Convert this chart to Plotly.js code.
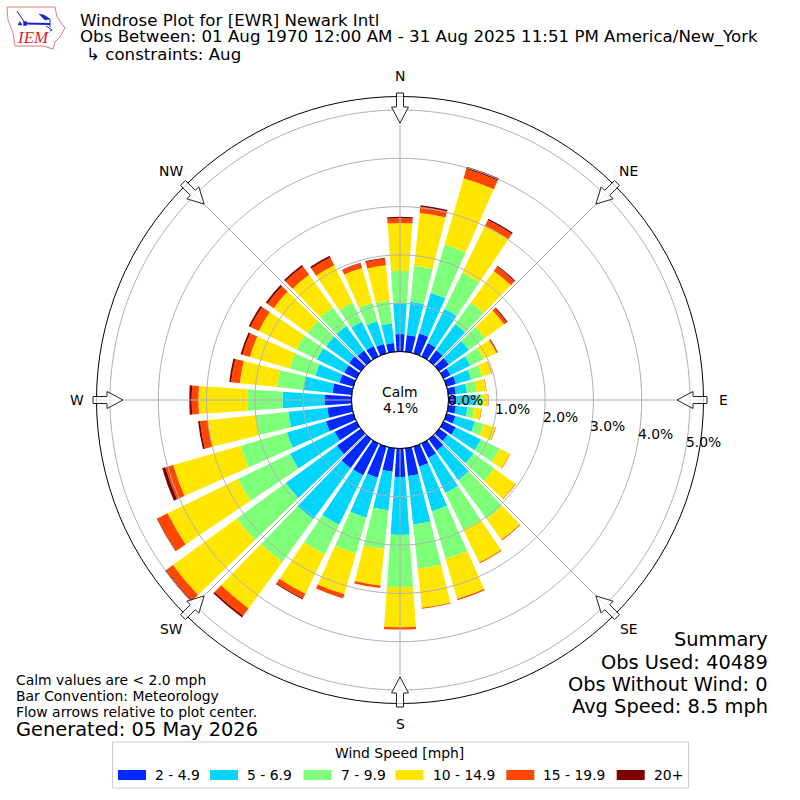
<!DOCTYPE html>
<html>
<head>
<meta charset="utf-8">
<script src="https://cdn.plot.ly/plotly-3.0.1.min.js"></script>
<style>body{margin:0;background:#fff}</style>
</head>
<body>
<div id="windrose" style="width:800px;height:800px"></div>
<script>
var directions = [0,10,20,30,40,50,60,70,80,90,100,110,120,130,140,150,160,170,180,190,200,210,220,230,240,250,260,270,280,290,300,310,320,330,340,350];

var speed2to5 = [.36,.35,.43,.31,.27,.25,.16,.20,.16,.16,.16,.19,.28,.22,.29,.33,.43,.58,.59,.49,.67,.73,.74,.61,.50,.59,.51,.55,.40,.30,.28,.30,.26,.24,.20,.18];
var speed5to7 = [.64,.69,.87,.79,.67,.51,.46,.33,.23,.42,.24,.42,.58,.66,.76,.81,.96,1.01,1.20,.80,.86,1.14,1.31,1.31,1.03,.84,.81,.88,.60,.52,.63,.59,.63,.56,.49,.41];
var speed7to10 = [.67,.75,1.04,.83,.55,.41,.30,.23,.20,.13,.14,.19,.43,.53,.99,.85,1.03,.92,1.08,.81,.77,.68,1.09,1.25,1.20,1.00,.68,.73,.55,.55,.47,.47,.48,.44,.40,.47];
var speed10to15 = [.99,1.10,1.43,1.08,.81,.49,.30,.21,.20,.11,.15,.25,.24,.54,.53,.75,.86,.81,.83,.76,.88,.91,1.19,1.64,1.62,1.45,1.00,1.01,.78,.86,.87,.87,.83,.86,.75,.74];
var speed15to20 = [.10,.13,.20,.13,.11,.07,.02,.01,.01,.01,.01,.01,.01,.01,.02,.02,.03,.02,.05,.05,.09,.11,.19,.17,.24,.17,.16,.14,.18,.16,.19,.16,.21,.18,.10,.14];
var speed20up = [.03,.03,.05,.03,.02,.02,.01,0,0,0,0,0,0,0,0,0,0,0,0,0,0,.02,.04,.03,.01,.07,.04,.05,.04,.04,.04,.04,.04,.04,.01,.02];

var binNames = ['2 - 4.9','5 - 6.9','7 - 9.9','10 - 14.9','15 - 19.9','20+'];
var binColors = ['#0029ff','#00d5ff','#7dff7a','#ffe600','#ff4700','#800000'];
var binValues = [speed2to5,speed5to7,speed7to10,speed10to15,speed15to20,speed20up];

var radialTicks = [0,1,2,3,4,5];
var compassAngles = [0,45,90,135,180,225,270,315];
var compassNames = ['N','NE','E','SE','S','SW','W','NW'];

var FONT = 'DejaVu Sans';
var R_MAX = 5.28;
var OUTER = 303.5, HOLE = 48.5;

function px(x){ return x/800; }
function py(y){ return 1-y/800; }

var data = [];
binValues.forEach(function(vals,i){
  data.push({type:'barpolar', r:vals, theta:directions, width:8, name:binNames[i],
    marker:{color:binColors[i], line:{width:0}}, hoverinfo:'theta+r+name'});
});

// grid goes on top of the bars, so it is drawn as line traces
var ringTheta = [];
for (var t=0;t<=360;t+=2) ringTheta.push(t);
radialTicks.forEach(function(v){
  data.push({type:'scatterpolar', mode:'lines', theta:ringTheta, r:ringTheta.map(function(){return v;}),
    line:{color:v==0?'#000000':'#b0b0b0', width:1}, hoverinfo:'skip', showlegend:false});
});
compassAngles.forEach(function(a){
  data.push({type:'scatterpolar', mode:'lines', theta:[a,a], r:[0,R_MAX],
    line:{color:'#b0b0b0', width:1}, hoverinfo:'skip', showlegend:false});
});

var annotations = [], shapes = [];
function label(x,y,text,size,anchor,color,extra){
  var a = {xref:'paper',yref:'paper',x:px(x),y:py(y),text:text,showarrow:false,xanchor:anchor||'left',yanchor:'middle',
    font:{family:FONT,size:size,color:color||'#000'},align:anchor||'left',borderpad:0};
  for (var k in extra) a[k]=extra[k];
  annotations.push(a);
}

label(79,20,'Windrose Plot for [EWR] Newark Intl',16.67);
label(79,37,'Obs Between: 01 Aug 1970 12:00 AM - 31 Aug 2025 11:51 PM America/New_York',16.67);
label(85,55,'↳ constraints: Aug',16.67);

label(400,392,'Calm',13.9,'center');
label(400,408,'4.1%',13.9,'center');

label(15,680,'Calm values are &lt; 2.0 mph',13.9);
label(15,696,'Bar Convention: Meteorology',13.9);
label(15,712,'Flow arrows relative to plot center.',13.9);
label(15,729,'Generated: 05 May 2026',19.4);

label(769,639.5,'Summary',19.4,'right');
label(769,662,'Obs Used: 40489',19.4,'right');
label(769,684.5,'Obs Without Wind: 0',19.4,'right');
label(769,706,'Avg Speed: 8.5 mph',19.4,'right');

compassAngles.forEach(function(a,i){
  var rad = a*Math.PI/180;
  label(400+323.5*Math.sin(rad),400-323.5*Math.cos(rad),compassNames[i],13.9,'center');
});

// radial labels sit 10 degrees past E, left-bottom on the ring
radialTicks.forEach(function(v){
  var rp = HOLE+v*(OUTER-HOLE)/R_MAX, rad = 10*Math.PI/180;
  label(400+rp*Math.cos(rad)-1,400+rp*Math.sin(rad)-8,v.toFixed(1)+'%',13.9);
});

// flow arrows, pointing at the centre
compassAngles.forEach(function(a){
  var rad = a*Math.PI/180, s = Math.sin(rad), c = Math.cos(rad);
  function pt(along,side){
    return [400+s*along+c*side, 400-c*along+s*side];
  }
  var poly = [pt(307,-3.5),pt(307,3.5),pt(293,3.5),pt(293,8.5),pt(277,0),pt(293,-8.5),pt(293,-3.5)];
  var path = poly.map(function(p,i){return (i?'L':'M')+px(p[0])+','+py(p[1]);}).join(' ')+' Z';
  shapes.push({type:'path',xref:'paper',yref:'paper',path:path,fillcolor:'rgba(255,255,255,0.75)',line:{color:'#222222',width:1}});
});

// legend box
shapes.push({type:'rect',xref:'paper',yref:'paper',x0:px(112.5),x1:px(688.5),y0:py(742),y1:py(788),
  line:{color:'#cccccc',width:1},fillcolor:'#ffffff'});
label(399.5,753,'Wind Speed [mph]',13.9,'center');
var swatchX = [118,210,303.5,395.5,506.3,616.7];
binNames.forEach(function(n,i){
  shapes.push({type:'rect',xref:'paper',yref:'paper',x0:px(swatchX[i]),x1:px(swatchX[i]+28),y0:py(770),y1:py(780),
    line:{width:0},fillcolor:binColors[i]});
  label(swatchX[i]+36,774.5,n,13.9);
});

// IEM logo
function logoPath(points,closed,color,width,fill){
  var p = points.map(function(q,i){return (i?'L':'M')+px(q[0])+','+py(q[1]);}).join(' ')+(closed?' Z':'');
  shapes.push({type:'path',xref:'paper',yref:'paper',path:p,line:{color:color,width:width},fillcolor:fill||'rgba(0,0,0,0)'});
}
logoPath([[7,7],[55,7],[57,17],[65,28],[60,37],[55,42],[53,49],[43,46],[15,46],[13,33],[8,20]],true,'#e27b7b',1);
logoPath([[25,23.5],[50,24]],false,'#1a22c8',2);
logoPath([[17,11],[21,17],[25,23]],false,'#1a22c8',1);
logoPath([[39,14],[44,15],[50,19],[45,20]],true,'#1a22c8',0.5,'#1a22c8');
logoPath([[50,19],[50,27]],false,'#1a22c8',1);
logoPath([[23.5,21.5],[26.5,21.5],[26.5,25.5],[23.5,25.5]],true,'#1a22c8',0.5,'#1a22c8');
logoPath([[18,25],[20,21.5],[22,25]],true,'#1a22c8',0.5,'#1a22c8');
logoPath([[46,26],[49,28],[52,30],[50,31]],false,'#1a22c8',1);
label(16,38,'<i>IEM</i>',17,'left','#d62728',{font:{family:'Liberation Serif',size:17,color:'#d62728'}});

var layout = {
  width:800, height:800,
  margin:{l:0,r:0,t:0,b:0},
  paper_bgcolor:'#ffffff',
  showlegend:false,
  font:{family:FONT,size:13.9,color:'#000'},
  polar:{
    domain:{x:[px(400-OUTER),px(400+OUTER)], y:[py(400+OUTER),py(400-OUTER)]},
    hole:HOLE/OUTER,
    barmode:'stack',
    bgcolor:'#ffffff',
    angularaxis:{rotation:90,direction:'clockwise',tickmode:'array',tickvals:compassAngles,ticktext:compassNames,
      showgrid:false,showline:true,linecolor:'#000000',linewidth:1,ticks:'',showticklabels:false},
    radialaxis:{range:[0,R_MAX],tickmode:'array',tickvals:radialTicks,
      showgrid:false,showline:false,ticks:'',showticklabels:false}
  },
  shapes:shapes,
  annotations:annotations
};

Plotly.newPlot('windrose', data, layout, {displayModeBar:false});
</script>
</body>
</html>
